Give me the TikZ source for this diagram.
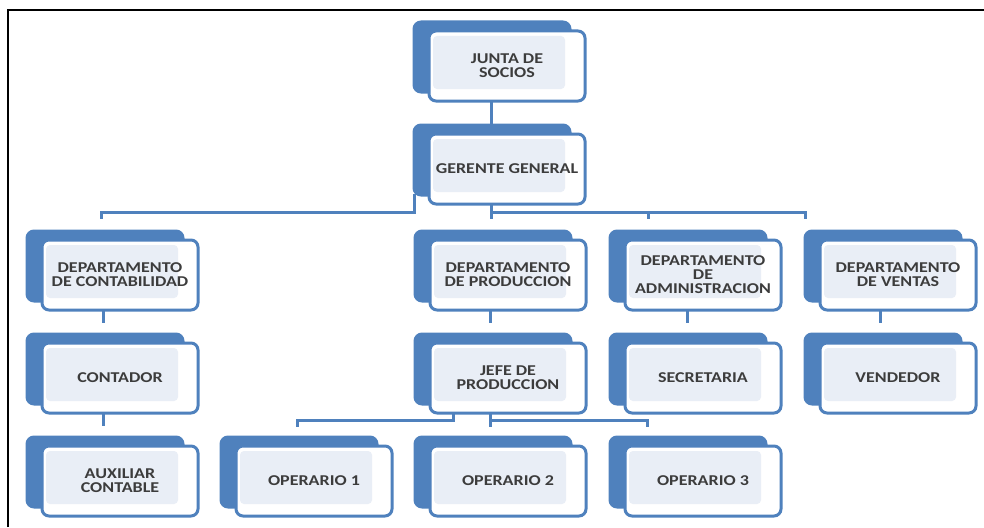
\documentclass[tikz,border=0pt]{standalone}
\usepackage{fontspec}
\setmainfont{Carlito}[FakeStretch=1.2]
\usepackage{tikz}
\usetikzlibrary{shadows}
\usetikzlibrary{positioning}
\definecolor{boxblue}{HTML}{4F81BD}
\definecolor{boxpanel}{HTML}{E9EEF6}
\definecolor{boxtext}{HTML}{3C3C3C}

\begin{document}
\begin{tikzpicture}[x=1pt, y=-1pt,
orgbox/.style = {shape=rectangle, rounded corners=7pt, draw=boxblue, line width=3pt,
  fill=white, minimum width=156pt, minimum height=70pt, inner sep=2pt, outer sep=0pt,
  align=center, text=boxtext, font={\bfseries\fontsize{15}{14}\selectfont},
  copy shadow={shadow xshift=-15pt, shadow yshift=9pt, fill=boxblue, draw=boxblue},
  path picture={\fill[boxpanel, rounded corners=4pt]
    ([xshift=4pt,yshift=-5pt]path picture bounding box.north west) rectangle
    ([xshift=-20pt,yshift=12pt]path picture bounding box.south east);}
},
link/.style = {draw=boxblue, line width=3pt},
frame/.style = {draw=black, line width=2pt}
]
\useasboundingbox (0,0) rectangle (984,527);
\draw[frame] (8,527) -- (8,10) -- (984,10);

% top of the chart
\node[orgbox] (junta) at (507,66) {JUNTA DE\\SOCIOS};
\node[orgbox, below=33pt of junta] (gerente) {GERENTE GENERAL};

% departments
\node[orgbox] (dcont) at (120,275) {DEPARTAMENTO\\DE CONTABILIDAD};
\node[orgbox] (dprod) at (508,275) {DEPARTAMENTO\\DE PRODUCCION};
\node[orgbox, right=39pt of dprod] (dadmin) {DEPARTAMENTO\\DE\\ADMINISTRACION};
\node[orgbox, right=39pt of dadmin] (dventas) {DEPARTAMENTO\\DE VENTAS};

% staff
\node[orgbox, below=33pt of dcont] (contador) {CONTADOR};
\node[orgbox, below=33pt of contador] (auxiliar) {AUXILIAR\\CONTABLE};
\node[orgbox, below=33pt of dprod] (jefe) {JEFE DE\\PRODUCCION};
\node[orgbox, below=33pt of dadmin] (secretaria) {SECRETARIA};
\node[orgbox, below=33pt of dventas] (vendedor) {VENDEDOR};
\node[orgbox, below=33pt of jefe] (op2) {OPERARIO 2};
\node[orgbox, left=38pt of op2] (op1) {OPERARIO 1};
\node[orgbox, below=33pt of secretaria] (op3) {OPERARIO 3};

% connectors
\draw[link] ([xshift=-16pt]junta.south) -- ([xshift=-16pt,yshift=9pt]gerente.north);
\draw[link] ([xshift=-15pt,yshift=10pt]gerente.south west)
  |- ([xshift=-19pt,yshift=28pt]dcont.north) -- ([xshift=-19pt,yshift=21pt]dcont.north);
\draw[link] ([xshift=-16pt]gerente.south) -- ([xshift=-17pt,yshift=21pt]dprod.north);
\draw[link] ([xshift=-16pt,yshift=28pt]dprod.north) -| ([xshift=-15pt,yshift=21pt]dventas.north west);
\draw[link] ([xshift=23pt,yshift=28pt]dadmin.north west) -- ([xshift=23pt,yshift=21pt]dadmin.north west);
\draw[link] ([xshift=-17pt]dcont.south) -- ([xshift=-17pt,yshift=20pt]contador.north);
\draw[link] ([xshift=-17pt]contador.south) -- ([xshift=-17pt,yshift=20pt]auxiliar.north);
\draw[link] ([xshift=-18pt]dprod.south) -- ([xshift=-18pt,yshift=20pt]jefe.north);
\draw[link] ([xshift=-16pt]dadmin.south) -- ([xshift=-16pt,yshift=20pt]secretaria.north);
\draw[link] ([xshift=-18pt]dventas.south) -- ([xshift=-18pt,yshift=20pt]vendedor.north);
\draw[link] ([xshift=23pt]jefe.south west)
  |- ([xshift=-17pt,yshift=26pt]op1.north) -- ([xshift=-17pt,yshift=19pt]op1.north);
\draw[link] ([xshift=-18pt]jefe.south) -- ([xshift=-18pt,yshift=19pt]op2.north);
\draw[link] ([xshift=-18pt,yshift=26pt]op2.north) -| ([xshift=22pt,yshift=19pt]op3.north west);

\end{tikzpicture}
\end{document}
